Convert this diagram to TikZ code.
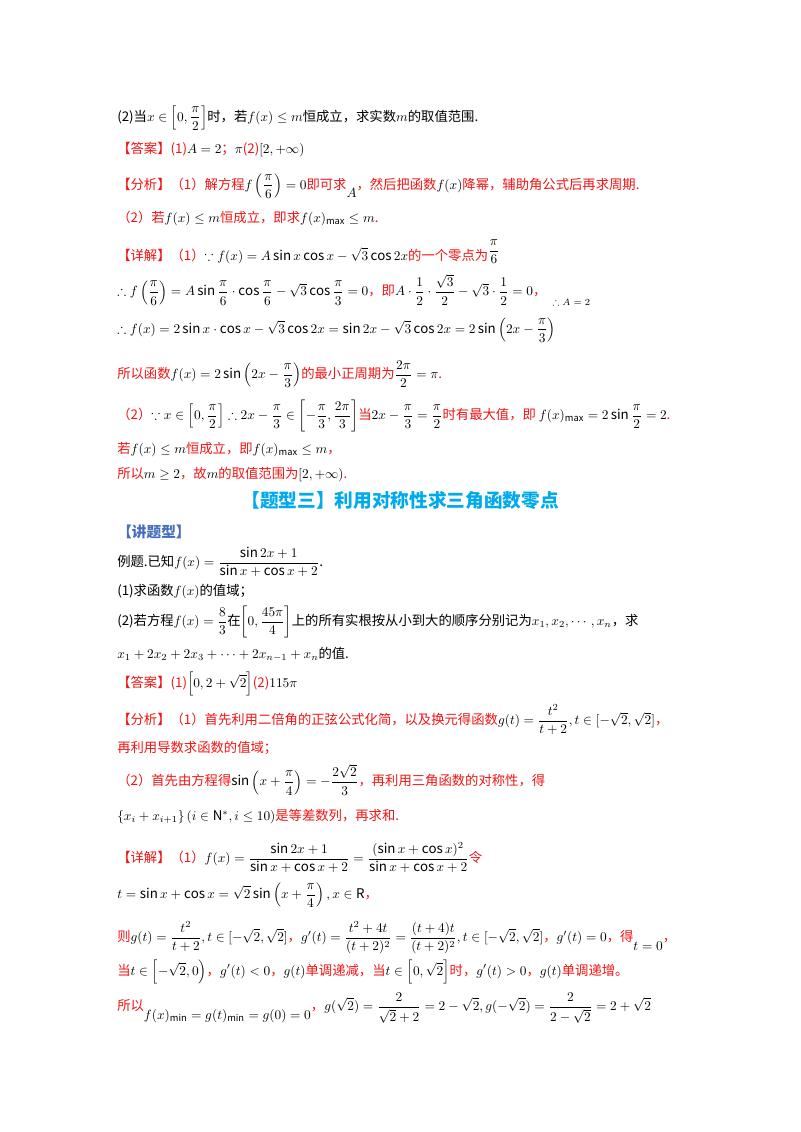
\documentclass[tikz,border=0pt]{standalone}
\usepackage{amsmath,amssymb}
\usepackage{fontspec}
\setmainfont{Noto Sans CJK SC}
\everymath{\displaystyle}
\definecolor{ared}{RGB}{240,20,20}
\definecolor{acyan}{RGB}{0,170,235}
\definecolor{ablue}{RGB}{70,110,190}
\tikzset{ln/.style={anchor=west,inner sep=0pt,font=\fontsize{10}{12}\selectfont},
 rd/.style={ln,text=ared}}
\newcommand{\bk}[1]{\textcolor{black}{$#1$}}
\newcommand{\lw}[1]{\raisebox{-1.2ex}{\textcolor{black}{$#1$}}}
\begin{document}
\begin{tikzpicture}[x=0.75pt,y=-0.75pt]
\useasboundingbox (0,0) rectangle (800,1132);
\node[ln] (l1) at (117,118) {(2)当$x\in\left[0,\frac{\pi}{2}\right]$时，若$f(x)\le m$恒成立，求实数$m$的取值范围.};
\node[rd] (l2) at (117,150) {【答案】(1)\bk{A=2}；\bk{\pi}(2)\bk{[2,+\infty)}};
\node[rd] (l3) at (117,186) {【分析】（1）解方程\bk{f\left(\frac{\pi}{6}\right)=0}即可求\lw{A}，然后把函数\bk{f(x)}降幂，辅助角公式后再求周期.};
\node[rd] (l4) at (117,218) {（2）若\bk{f(x)\le m}恒成立，即求\bk{f(x)_{\max}\le m}.};
\node[rd] (l5) at (117,252) {【详解】（1）\bk{\because f(x)=A\sin x\cos x-\sqrt3\cos 2x}的一个零点为\raisebox{0.8ex}{\bk{\frac{\pi}{6}}}};
\node[ln] (l6) at (117,290) {$\therefore f\left(\frac{\pi}{6}\right)=A\sin\frac{\pi}{6}\cdot\cos\frac{\pi}{6}-\sqrt3\cos\frac{\pi}{3}=0$\textcolor{ared}{，即}$A\cdot\frac12\cdot\frac{\sqrt3}{2}-\sqrt3\cdot\frac12=0$\textcolor{ared}{，}};
\node[ln,font=\fontsize{7}{8}\selectfont] (l6b) at (552,302) {$\therefore A=2$};
\node[ln] (l7) at (117,330) {$\therefore f(x)=2\sin x\cdot\cos x-\sqrt3\cos 2x=\sin 2x-\sqrt3\cos 2x=2\sin\left(2x-\frac{\pi}{3}\right)$};
\node[rd] (l8) at (117,374) {所以函数\bk{f(x)=2\sin\left(2x-\frac{\pi}{3}\right)}的最小正周期为\bk{\frac{2\pi}{2}=\pi}.};
\node[rd] (l9) at (117,416) {（2）\bk{\because x\in\left[0,\frac{\pi}{2}\right]\therefore 2x-\frac{\pi}{3}\in\left[-\frac{\pi}{3},\frac{2\pi}{3}\right]}当\bk{2x-\frac{\pi}{3}=\frac{\pi}{2}}时有最大值，即 \bk{f(x)_{\max}=2\sin\frac{\pi}{2}=2}.};
\node[rd] (l10) at (117,450) {若\bk{f(x)\le m}恒成立，即\bk{f(x)_{\max}\le m}，};
\node[rd] (l11) at (117,475) {所以\bk{m\ge2}，故\bk{m}的取值范围为\bk{[2,+\infty)}.};
\node[anchor=center,text=acyan,font=\fontsize{14}{16}\selectfont\bfseries] (h) at (400,500) {【题型三】利用对称性求三角函数零点};
\node[ln,text=ablue,font=\fontsize{11}{12}\selectfont\bfseries] (k) at (117,532) {【讲题型】};
\node[ln] (e1) at (117,562) {例题.已知$f(x)=\frac{\sin 2x+1}{\sin x+\cos x+2}$.};
\node[ln] (e2) at (117,592) {(1)求函数$f(x)$的值域；};
\node[ln] (e3) at (117,622) {(2)若方程$f(x)=\frac83$在$\left[0,\frac{45\pi}{4}\right]$上的所有实根按从小到大的顺序分别记为$x_1,x_2,\cdots,x_n$，求};
\node[ln] (e4) at (117,654) {$x_1+2x_2+2x_3+\cdots+2x_{n-1}+x_n$的值.};
\node[rd] (e5) at (117,684) {【答案】(1)\bk{\left[0,2+\sqrt2\right]}(2)\bk{115\pi}};
\node[rd] (e6) at (117,720) {【分析】（1）首先利用二倍角的正弦公式化简，以及换元得函数\bk{g(t)=\frac{t^2}{t+2},t\in[-\sqrt2,\sqrt2]}，};
\node[rd] (e7) at (117,748) {再利用导数求函数的值域；};
\node[rd] (e8) at (117,780) {（2）首先由方程得\bk{\sin\left(x+\frac{\pi}{4}\right)=-\frac{2\sqrt2}{3}}，再利用三角函数的对称性，得};
\node[rd] (e9) at (117,817) {\bk{\left\{x_i+x_{i+1}\right\}\left(i\in\mathrm{N}^*,i\le10\right)}是等差数列，再求和.};
\node[rd] (e10) at (117,858) {【详解】（1）\bk{f(x)=\frac{\sin 2x+1}{\sin x+\cos x+2}=\frac{(\sin x+\cos x)^2}{\sin x+\cos x+2}}令};
\node[ln] (e11) at (117,895) {$t=\sin x+\cos x=\sqrt2\sin\left(x+\frac{\pi}{4}\right),x\in\mathrm{R}$\textcolor{ared}{，}};
\node[rd] (e12) at (117,938) {则\bk{g(t)=\frac{t^2}{t+2},t\in[-\sqrt2,\sqrt2]}，\bk{g'(t)=\frac{t^2+4t}{(t+2)^2}=\frac{(t+4)t}{(t+2)^2},t\in[-\sqrt2,\sqrt2]}，\bk{g'(t)=0}，得\lw{t=0}，};
\node[rd] (e13) at (117,972) {当\bk{t\in\left[-\sqrt2,0\right)}，\bk{g'(t)<0}，\bk{g(t)}单调递减，当\bk{t\in\left[0,\sqrt2\right]}时，\bk{g'(t)>0}，\bk{g(t)}单调递增。};
\node[rd] (e14) at (117,1008) {所以\lw{f(x)_{\min}=g(t)_{\min}=g(0)=0}，\bk{g(\sqrt2)=\frac{2}{\sqrt2+2}=2-\sqrt2,g(-\sqrt2)=\frac{2}{2-\sqrt2}=2+\sqrt2}};
\end{tikzpicture}
\end{document}
